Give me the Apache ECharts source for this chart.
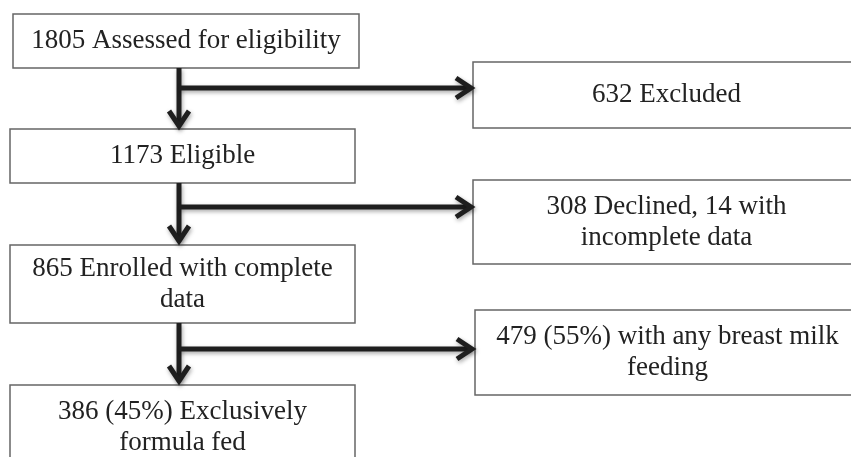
<!DOCTYPE html>
<html>
<head>
<meta charset="utf-8">
<script src="https://cdn.jsdelivr.net/npm/echarts@6/dist/echarts.min.js"></script>
<style>
html,body{margin:0;padding:0;background:#fff;}
#chart{width:851px;height:457px;}
</style>
</head>
<body>
<div id="chart"></div>
<script>
// Flowchart contents
const boxLabels = [
  "1805 Assessed for eligibility",
  "632 Excluded",
  "1173 Eligible",
  "308 Declined, 14 with\nincomplete data",
  "865 Enrolled with complete\ndata",
  "479 (55%) with any breast milk\nfeeding",
  "386 (45%) Exclusively\nformula fed"
];
// Box layout in chart units: [x0, y0, x1, y1]
const boxLayout = [
  [13, 14, 359, 68],
  [473, 62, 860, 128],
  [10, 129, 355, 183],
  [473, 180, 860, 264],
  [10, 245, 355, 323],
  [475, 310, 860, 395],
  [10, 385, 355, 470]
];
// Arrows: [fromX, fromY, toX, toY]
const arrowLayout = [
  [179, 68, 179, 128],
  [179, 88, 473, 88],
  [179, 183, 179, 243],
  [179, 207, 473, 207],
  [179, 323, 179, 383],
  [179, 349, 474, 349]
];

const chart = echarts.init(document.getElementById('chart'));

const option = {
  animation: false,
  backgroundColor: '#ffffff',
  grid: { left: 0, right: 0, top: 0, bottom: 0 },
  xAxis: { type: 'value', min: 0, max: 851, show: false },
  yAxis: { type: 'value', min: 0, max: 457, inverse: true, show: false },
  series: [
    {
      type: 'custom',
      coordinateSystem: 'cartesian2d',
      clip: true,
      data: boxLayout.map((b, i) => [b[0], b[1], b[2], b[3], i]),
      encode: { x: [0, 2], y: [1, 3] },
      renderItem: function (params, api) {
        const p0 = api.coord([api.value(0), api.value(1)]);
        const p1 = api.coord([api.value(2), api.value(3)]);
        const idx = api.value(4);
        return {
          type: 'group',
          children: [
            {
              type: 'rect',
              shape: { x: p0[0], y: p0[1], width: p1[0] - p0[0], height: p1[1] - p0[1] },
              style: { fill: '#ffffff', stroke: '#666666', lineWidth: 1.5 }
            },
            {
              type: 'text',
              style: {
                x: (p0[0] + p1[0]) / 2,
                y: (p0[1] + Math.min(p1[1], p0[1] + 86)) / 2,
                text: boxLabels[idx],
                align: 'center',
                verticalAlign: 'middle',
                fontFamily: 'Liberation Serif',
                fontSize: 27,
                lineHeight: 31,
                fill: '#222222'
              }
            }
          ]
        };
      }
    },
    {
      type: 'custom',
      coordinateSystem: 'cartesian2d',
      clip: true,
      data: arrowLayout.map(a => a.slice()),
      encode: { x: [0, 2], y: [1, 3] },
      renderItem: function (params, api) {
        const s = api.coord([api.value(0), api.value(1)]);
        const e = api.coord([api.value(2), api.value(3)]);
        const dx = e[0] - s[0], dy = e[1] - s[1];
        const len = Math.sqrt(dx * dx + dy * dy);
        const ux = dx / len, uy = dy / len;
        const nx = -uy, ny = ux;
        const back = 17, side = 10;
        const a1 = [e[0] - ux * back + nx * side, e[1] - uy * back + ny * side];
        const a2 = [e[0] - ux * back - nx * side, e[1] - uy * back - ny * side];
        const tip = [e[0] - ux * 2, e[1] - uy * 2];
        const st = {
          stroke: '#1e1e1e', lineWidth: 5, fill: null,
          lineJoin: 'miter', lineCap: 'butt',
          shadowBlur: 4, shadowColor: 'rgba(0,0,0,0.35)', shadowOffsetX: 1, shadowOffsetY: 2
        };
        return {
          type: 'group',
          children: [
            { type: 'line', shape: { x1: s[0], y1: s[1], x2: tip[0], y2: tip[1] }, style: st },
            { type: 'polyline', shape: { points: [a1, tip, a2] }, style: st }
          ]
        };
      }
    }
  ]
};
chart.setOption(option);
</script>
</body>
</html>
